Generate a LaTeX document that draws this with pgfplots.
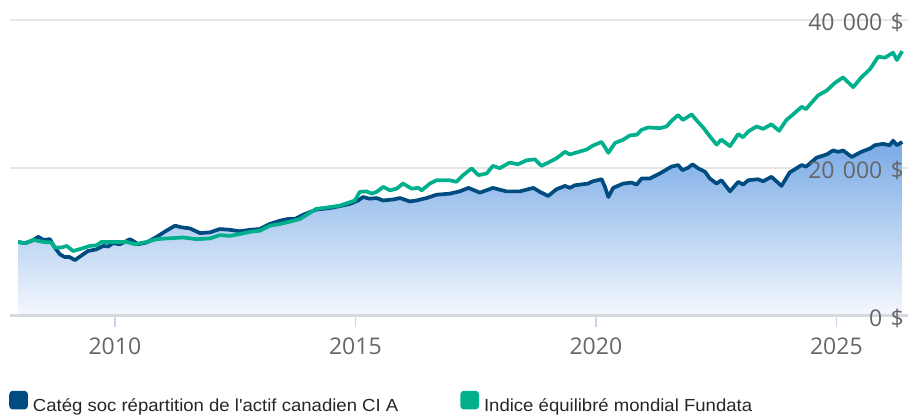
\documentclass[border=0pt]{standalone}
\usepackage{pgfplots}
\pgfplotsset{compat=1.18}
\usepackage{pgfplotstable}
\usepackage{fontspec}
\setmainfont{Liberation Sans}
\newfontfamily\tickfont{Open Sans}
\newfontfamily\legfont[FakeStretch=1.06]{Liberation Sans}
\definecolor{cblue}{HTML}{004C80}
\definecolor{cgreen}{HTML}{00B08C}
\definecolor{gridc}{HTML}{E6E6E6}
\definecolor{axisc}{HTML}{D5DAE0}
\definecolor{tickc}{HTML}{CCD6EB}
\definecolor{labc}{HTML}{666666}
\definecolor{filltop}{RGB}{120,170,230}
\definecolor{fillbot}{RGB}{245,248,253}
\newcommand{\gsp}{\hspace{0.36em}}
\tikzset{ylab/.style={anchor=east, inner sep=0pt, xshift=-4pt, yshift=-2pt, text=labc, font=\tickfont\fontsize{23}{23}\selectfont}}

\pgfplotstableread{
x y
2007.99 10000
2008.13 9840
2008.27 10150
2008.41 10700
2008.51 10290
2008.65 10380
2008.75 9250
2008.86 8330
2008.96 7960
2009.06 7960
2009.17 7550
2009.31 8200
2009.44 8780
2009.62 9020
2009.76 9470
2009.86 9390
2009.96 9840
2010.10 9700
2010.21 10010
2010.31 10380
2010.38 10150
2010.48 9700
2010.66 9930
2010.87 10700
2011.07 11520
2011.25 12200
2011.39 11980
2011.56 11840
2011.77 11200
2011.98 11300
2012.18 11750
2012.39 11650
2012.60 11450
2012.81 11650
2013.01 11750
2013.22 12430
2013.43 12880
2013.60 13110
2013.74 13110
2013.91 13660
2014.19 14390
2014.47 14580
2014.68 14850
2014.89 15160
2015.06 15610
2015.16 16080
2015.30 15850
2015.44 15940
2015.58 15610
2015.79 15750
2015.93 15940
2016.13 15480
2016.27 15610
2016.48 15940
2016.69 16390
2016.96 16530
2017.17 16840
2017.35 17310
2017.59 16670
2017.86 17310
2018.14 16840
2018.42 16840
2018.70 17310
2018.84 16760
2019.01 16220
2019.18 17120
2019.36 17580
2019.46 17310
2019.56 17660
2019.84 17900
2019.94 18210
2020.12 18480
2020.19 17450
2020.26 16080
2020.36 17310
2020.57 17900
2020.74 18030
2020.85 17760
2020.95 18580
2021.12 18580
2021.33 19260
2021.57 20180
2021.71 20400
2021.80 19710
2021.92 20040
2022.01 20490
2022.13 19950
2022.27 19490
2022.37 18580
2022.51 17900
2022.61 18350
2022.79 16840
2022.96 18130
2023.06 17760
2023.17 18350
2023.37 18480
2023.48 18210
2023.65 18810
2023.86 17580
2024.03 19400
2024.28 20400
2024.37 20180
2024.59 21400
2024.80 21830
2024.93 22370
2025.04 22190
2025.14 22370
2025.32 21490
2025.52 22190
2025.70 22630
2025.80 23080
2025.97 23260
2026.11 23080
2026.18 23690
2026.26 23080
2026.37 23520
}\bluedata

\pgfplotstableread{
x y
2007.99 10000
2008.13 9840
2008.30 10290
2008.51 10010
2008.68 9930
2008.75 9250
2008.89 9250
2009.00 9470
2009.13 8780
2009.31 9110
2009.48 9470
2009.62 9560
2009.72 10010
2009.96 10010
2010.24 10010
2010.42 9700
2010.66 10010
2010.87 10380
2011.07 10480
2011.42 10610
2011.70 10380
2011.98 10480
2012.18 10930
2012.39 10830
2012.60 11070
2012.81 11380
2013.01 11520
2013.22 12200
2013.43 12430
2013.64 12750
2013.85 13110
2014.02 13800
2014.19 14480
2014.47 14710
2014.68 14930
2014.85 15300
2014.99 15610
2015.09 16760
2015.23 16840
2015.34 16530
2015.44 16760
2015.58 17450
2015.72 16980
2015.86 17210
2015.99 17900
2016.17 17210
2016.31 17310
2016.38 16980
2016.55 17900
2016.69 18350
2016.96 18350
2017.10 18130
2017.24 19030
2017.42 19950
2017.56 19030
2017.73 19260
2017.86 20290
2018.00 19970
2018.21 20730
2018.38 20500
2018.56 21040
2018.73 21170
2018.87 20290
2019.01 20730
2019.18 21300
2019.36 22190
2019.46 21830
2019.81 22500
2019.94 23030
2020.12 23520
2020.26 22060
2020.40 23390
2020.57 23830
2020.71 24410
2020.85 24490
2020.95 25160
2021.09 25480
2021.33 25380
2021.47 25610
2021.57 26350
2021.71 27150
2021.81 26490
2021.99 27240
2022.13 26180
2022.23 25480
2022.37 24280
2022.51 23160
2022.61 23830
2022.79 22950
2022.96 24580
2023.06 24150
2023.17 24940
2023.34 25610
2023.48 25290
2023.65 25910
2023.81 25020
2023.96 26480
2024.07 27070
2024.28 28270
2024.37 27950
2024.45 28570
2024.62 29810
2024.80 30470
2024.97 31500
2025.14 32250
2025.35 30920
2025.52 32250
2025.70 33360
2025.87 35040
2026.01 34910
2026.18 35580
2026.26 34590
2026.37 35790
}\greendata

\begin{document}
\begin{tikzpicture}[x=1pt,y=1pt]
\begin{axis}[
  at={(10pt,101pt)}, anchor=south west,
  scale only axis, width=898pt, height=296pt,
  xmin=2007.82, xmax=2026.49, ymin=0, ymax=40000,
  clip=false,
  scaled y ticks=false,
  axis line style={draw=none},
  ymajorgrids, grid style={gridc, line width=2pt},
  xtick={2010,2015,2020,2025}, xticklabels={2010,2015,2020,2025},
  xtick pos=bottom, tick align=outside, major tick length=11pt,
  xtick style={tickc, line width=1.5pt},
  xticklabel style={font=\tickfont\fontsize{23}{23}\selectfont, text=labc, anchor=north, inner sep=0pt, yshift=-11pt},
  ytick={0,20000,40000}, yticklabels={,,},
  ytick style={draw=none},
  legend columns=2,
  legend cell align=left,
  legend style={at={(axis description cs:0,0)}, anchor=south west, xshift=-1pt, yshift=-97pt,
    draw=none, fill=none, inner sep=0pt,
    font=\legfont\fontsize{17.5}{20}\selectfont, text=black!85,
    nodes={inner sep=0pt},
    /tikz/every odd column/.append style={column sep=5pt},
    /tikz/every even column/.append style={column sep=62pt}},
  legend image code/.code={\fill[#1, rounded corners=2pt] (0pt,-2pt) rectangle (15pt,13pt);},
]
\addplot[draw=none, top color=filltop, bottom color=fillbot, forget plot] table[x=x,y=y]{\bluedata} \closedcycle;
\draw[axisc, line width=3pt] (rel axis cs:0,0) -- (rel axis cs:1,0);
\addplot[cblue, line width=3.7pt, line join=round] table[x=x,y=y]{\bluedata};
\addlegendentry{Catég soc répartition de l'actif canadien CI A}
\addplot[cgreen, line width=3.7pt, line join=round] table[x=x,y=y]{\greendata};
\addlegendentry{Indice équilibré mondial Fundata}
\node[ylab] at (rel axis cs:1,0) {0\gsp\$};
\node[ylab] at (rel axis cs:1,0.5) {20\gsp000\gsp\$};
\node[ylab] at (rel axis cs:1,1) {40\gsp000\gsp\$};
\end{axis}
\pgfresetboundingbox
\path[use as bounding box] (0,0) rectangle (918,417);
\end{tikzpicture}
\end{document}
